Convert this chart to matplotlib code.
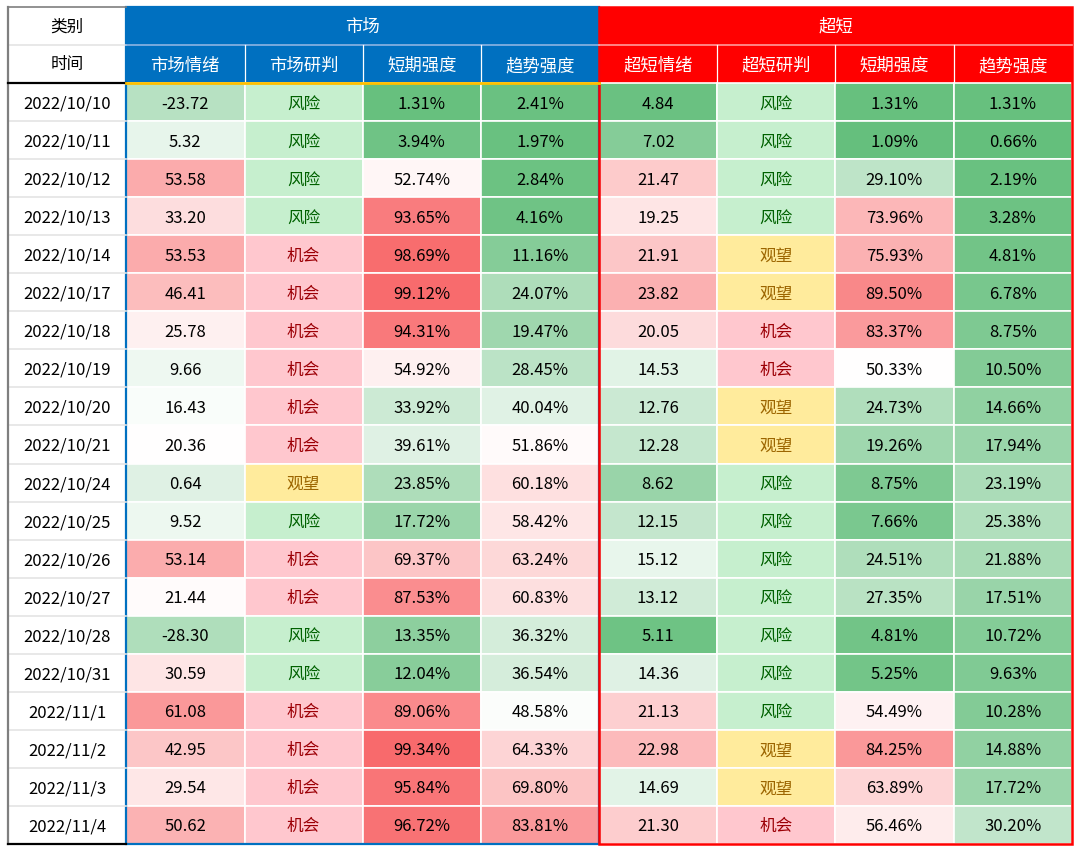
import matplotlib
matplotlib.use('Agg')
import matplotlib.pyplot as plt
from matplotlib.patches import Rectangle
from matplotlib.colors import LinearSegmentedColormap, TwoSlopeNorm

plt.rcParams['font.family'] = ['Noto Sans CJK SC', 'DejaVu Sans']

# ---------------- data ----------------
corner = ['类别', '时间']
groups = ['市场', '超短']
sub_headers = ['市场情绪', '市场研判', '短期强度', '趋势强度',
               '超短情绪', '超短研判', '短期强度', '趋势强度']
dates = ['2022/10/10', '2022/10/11', '2022/10/12', '2022/10/13', '2022/10/14',
         '2022/10/17', '2022/10/18', '2022/10/19', '2022/10/20', '2022/10/21',
         '2022/10/24', '2022/10/25', '2022/10/26', '2022/10/27', '2022/10/28',
         '2022/10/31', '2022/11/1', '2022/11/2', '2022/11/3', '2022/11/4']
mkt_sent = [-23.72, 5.32, 53.58, 33.20, 53.53, 46.41, 25.78, 9.66, 16.43, 20.36,
            0.64, 9.52, 53.14, 21.44, -28.30, 30.59, 61.08, 42.95, 29.54, 50.62]
mkt_judge = ['风险', '风险', '风险', '风险', '机会', '机会', '机会', '机会', '机会', '机会',
             '观望', '风险', '机会', '机会', '风险', '风险', '机会', '机会', '机会', '机会']
mkt_short = [1.31, 3.94, 52.74, 93.65, 98.69, 99.12, 94.31, 54.92, 33.92, 39.61,
             23.85, 17.72, 69.37, 87.53, 13.35, 12.04, 89.06, 99.34, 95.84, 96.72]
mkt_trend = [2.41, 1.97, 2.84, 4.16, 11.16, 24.07, 19.47, 28.45, 40.04, 51.86,
             60.18, 58.42, 63.24, 60.83, 36.32, 36.54, 48.58, 64.33, 69.80, 83.81]
ss_sent = [4.84, 7.02, 21.47, 19.25, 21.91, 23.82, 20.05, 14.53, 12.76, 12.28,
           8.62, 12.15, 15.12, 13.12, 5.11, 14.36, 21.13, 22.98, 14.69, 21.30]
ss_judge = ['风险', '风险', '风险', '风险', '观望', '观望', '机会', '机会', '观望', '观望',
            '风险', '风险', '风险', '风险', '风险', '风险', '风险', '观望', '观望', '机会']
ss_short = [1.31, 1.09, 29.10, 73.96, 75.93, 89.50, 83.37, 50.33, 24.73, 19.26,
            8.75, 7.66, 24.51, 27.35, 4.81, 5.25, 54.49, 84.25, 63.89, 56.46]
ss_trend = [1.31, 0.66, 2.19, 3.28, 4.81, 6.78, 8.75, 10.50, 14.66, 17.94,
            23.19, 25.38, 21.88, 17.51, 10.72, 9.63, 10.28, 14.88, 17.72, 30.20]

# ---------------- styling ----------------
cmap = LinearSegmentedColormap.from_list('gwr', ['#63BE7B', '#FFFFFF', '#F8696B'])
judge_style = {'风险': ('#C6EFCE', '#006100'),
               '机会': ('#FFC7CE', '#9C0006'),
               '观望': ('#FFEB9C', '#9C6500')}

columns = [
    ('num', mkt_sent, TwoSlopeNorm(vmin=-75, vcenter=20, vmax=80), '{:.2f}'),
    ('cat', mkt_judge, None, None),
    ('num', mkt_short, TwoSlopeNorm(vmin=0, vcenter=50, vmax=100), '{:.2f}%'),
    ('num', mkt_trend, TwoSlopeNorm(vmin=0, vcenter=50, vmax=100), '{:.2f}%'),
    ('num', ss_sent, TwoSlopeNorm(vmin=4.2, vcenter=17, vmax=30), '{:.2f}'),
    ('cat', ss_judge, None, None),
    ('num', ss_short, TwoSlopeNorm(vmin=0, vcenter=50, vmax=100), '{:.2f}%'),
    ('num', ss_trend, TwoSlopeNorm(vmin=0, vcenter=50, vmax=100), '{:.2f}%'),
]

W, H = 1080, 854
fig = plt.figure(figsize=(W / 100, H / 100), dpi=100)
ax = fig.add_axes([0, 0, 1, 1])
ax.set_xlim(0, W)
ax.set_ylim(H, 0)
ax.axis('off')

x_edges = [8, 126, 244.5, 362.5, 481, 599, 717, 835, 953.5, 1072]
top, h1, h2, bottom = 8, 46, 84, 845
n = len(dates)
rh = (bottom - h2) / n

# ---------- corner cells ----------
ax.add_patch(Rectangle((x_edges[0], top), x_edges[1] - x_edges[0], h2 - top,
                       facecolor='white', edgecolor='none'))
ax.plot([x_edges[0], x_edges[1]], [h1, h1], color='#E4E4E4', lw=1.2)
ax.text((x_edges[0] + x_edges[1]) / 2, (top + h1) / 2, corner[0],
        ha='center', va='center', fontsize=12, color='black')
ax.text((x_edges[0] + x_edges[1]) / 2, (h1 + h2) / 2, corner[1],
        ha='center', va='center', fontsize=12, color='black')

# ---------- group headers ----------
group_colors = ['#0070C0', '#FF0000']
sep_colors = ['#8DB4E2', '#FF9C9C']
for g in range(2):
    x0 = x_edges[1 + 4 * g]
    x1 = x_edges[5 + 4 * g]
    ax.add_patch(Rectangle((x0, top), x1 - x0, h2 - top,
                           facecolor=group_colors[g], edgecolor='none'))
    ax.plot([x0, x1], [h1, h1], color=sep_colors[g], lw=1.2)
    ax.text((x0 + x1) / 2, (top + h1) / 2, groups[g], ha='center', va='center',
            fontsize=12.5, color='white')

for j, name in enumerate(sub_headers):
    x0, x1 = x_edges[j + 1], x_edges[j + 2]
    ax.text((x0 + x1) / 2, (h1 + h2) / 2 + 1, name, ha='center', va='center',
            fontsize=12.5, color='white')
    if j not in (0, 4):
        ax.plot([x0, x0], [h1, h2], color='white', lw=0.9)

# ---------- data cells ----------
for i, d in enumerate(dates):
    y0 = h2 + i * rh
    yc = y0 + rh / 2
    ax.add_patch(Rectangle((x_edges[0], y0), x_edges[1] - x_edges[0], rh,
                           facecolor='white', edgecolor='none'))
    if i > 0:
        ax.plot([x_edges[0], x_edges[1]], [y0, y0], color='#E4E4E4', lw=1.2)
    ax.text((x_edges[0] + x_edges[1]) / 2, yc + 1, d, ha='center', va='center',
            fontsize=12, color='black')
    for j, (kind, vals, norm, fmt) in enumerate(columns):
        x0, x1 = x_edges[j + 1], x_edges[j + 2]
        if kind == 'num':
            fc = cmap(norm(vals[i]))
            label, tc = fmt.format(vals[i]), 'black'
        else:
            fc, tc = judge_style[vals[i]]
            label = vals[i]
        ax.add_patch(Rectangle((x0, y0), x1 - x0, rh, facecolor=fc,
                               edgecolor='white', lw=1.2))
        ax.text((x0 + x1) / 2, yc + 1, label, ha='center', va='center',
                fontsize=12, color=tc)

# ---------- borders ----------
ax.plot([x_edges[0], x_edges[0]], [top, bottom], color='#7F7F7F', lw=1.6)
ax.plot([x_edges[0], x_edges[1]], [top, top], color='#7F7F7F', lw=1.2)
ax.plot([x_edges[0], x_edges[1]], [h2, h2], color='black', lw=1.6)
ax.plot([x_edges[0], x_edges[1]], [bottom, bottom], color='black', lw=1.6)
ax.plot([x_edges[1], x_edges[5]], [h2, h2], color='#FFC000', lw=2.0)
ax.add_patch(Rectangle((x_edges[1], top), x_edges[5] - x_edges[1], bottom - top,
                       facecolor='none', edgecolor='#0070C0', lw=1.6))
ax.add_patch(Rectangle((x_edges[5], top), x_edges[9] - x_edges[5], bottom - top,
                       facecolor='none', edgecolor='#FF0000', lw=1.8))

fig.savefig('out.png', dpi=100, facecolor='white')
